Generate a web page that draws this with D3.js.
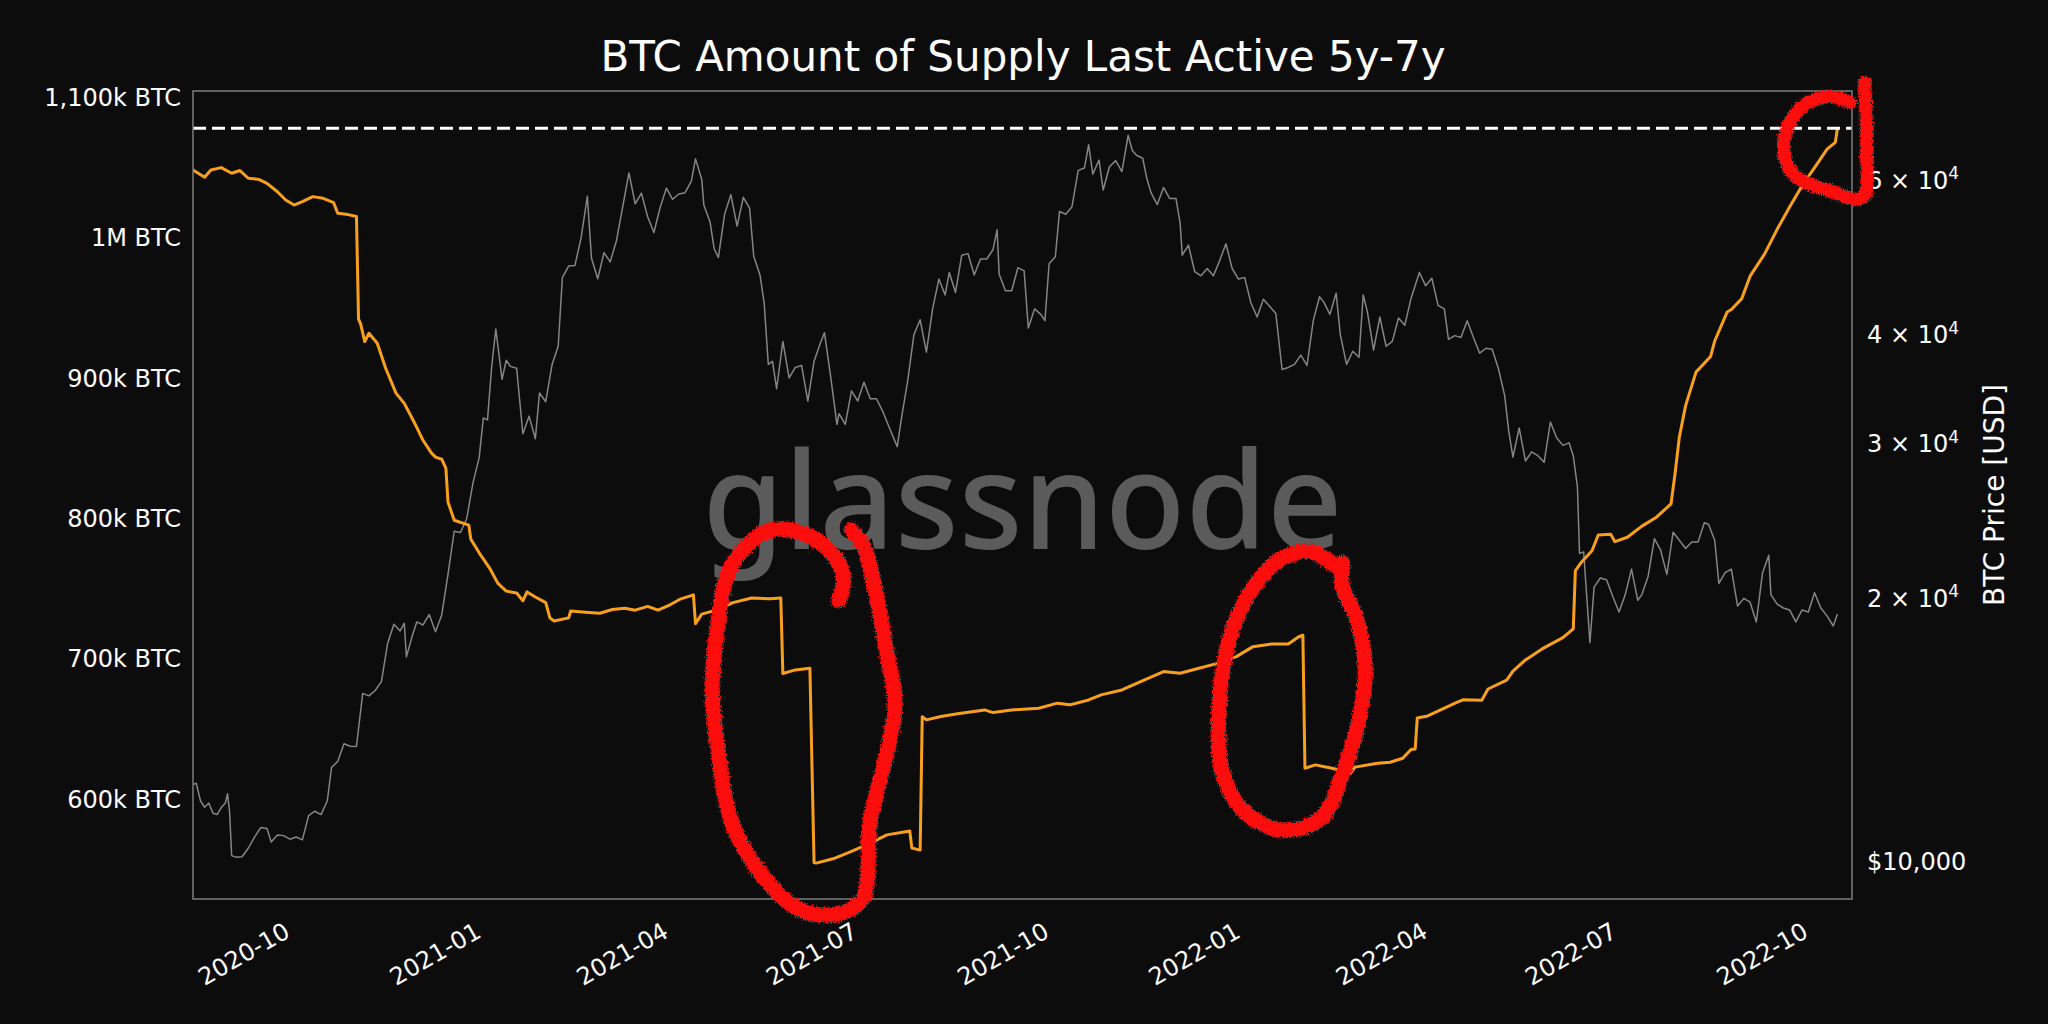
<!DOCTYPE html>
<html>
<head>
<meta charset="utf-8">
<title>BTC Amount of Supply Last Active 5y-7y</title>
<script src="https://cdn.jsdelivr.net/npm/d3@7"></script>
<style>
  html, body { margin: 0; padding: 0; background: #0c0c0c; }
  svg { display: block; }
</style>
</head>
<body>
<svg id="chart" width="2048" height="1024"></svg>
<script>

  // supply last active 5y-7y, thousands of BTC
  var supply = [
    ['2020-08-15', 1049], ['2020-08-21', 1043.5], ['2020-08-24', 1048.7], ['2020-08-29', 1050.4],
    ['2020-09-03', 1046.4], ['2020-09-07', 1048.3], ['2020-09-11', 1042.8], ['2020-09-16', 1042],
    ['2020-09-20', 1039.2], ['2020-09-25', 1033.2], ['2020-09-29', 1027.3], ['2020-10-03', 1023.7],
    ['2020-10-07', 1026.1], ['2020-10-12', 1029.7], ['2020-10-17', 1028.5], ['2020-10-22', 1025.4],
    ['2020-10-24', 1017.9], ['2020-10-29', 1016.9], ['2020-11-02', 1015.5], ['2020-11-03', 942.4],
    ['2020-11-04', 939], ['2020-11-06', 926.4], ['2020-11-08', 932.3], ['2020-11-12', 925.2],
    ['2020-11-16', 907.5], ['2020-11-21', 889.6], ['2020-11-25', 882.3], ['2020-11-30', 868.2],
    ['2020-12-04', 856], ['2020-12-08', 847], ['2020-12-10', 844], ['2020-12-13', 842.5],
    ['2020-12-15', 836], ['2020-12-16', 812], ['2020-12-19', 799], ['2020-12-26', 795.5],
    ['2020-12-27', 785.4], ['2020-12-31', 775.8], ['2021-01-05', 764.9], ['2021-01-09', 754],
    ['2021-01-13', 748.5], ['2021-01-18', 747.2], ['2021-01-21', 741.6], ['2021-01-23', 747.9],
    ['2021-01-27', 744.3], ['2021-02-01', 740.3], ['2021-02-03', 729.4], ['2021-02-05', 727.2],
    ['2021-02-12', 729.4], ['2021-02-13', 734.3], ['2021-02-20', 733.5], ['2021-02-27', 732.7],
    ['2021-03-05', 735.4], ['2021-03-11', 736.2], ['2021-03-16', 734.9], ['2021-03-22', 737.6],
    ['2021-03-27', 734.9], ['2021-04-02', 738.9], ['2021-04-07', 743], ['2021-04-13', 745.8],
    ['2021-04-14', 725.3], ['2021-04-17', 732.1], ['2021-04-24', 734.9], ['2021-05-02', 740.3],
    ['2021-05-11', 743.6], ['2021-05-20', 743], ['2021-05-25', 743.6], ['2021-05-26', 689.8],
    ['2021-06-01', 692.3], ['2021-06-08', 693.5], ['2021-06-09', 623.6], ['2021-06-10', 555],
    ['2021-06-11', 554.6], ['2021-06-20', 558.1], ['2021-06-28', 562.9], ['2021-07-07', 568.8],
    ['2021-07-15', 574.7], ['2021-07-24', 577], ['2021-07-26', 577.5], ['2021-07-27', 565.4],
    ['2021-07-30', 564.2], ['2021-07-31', 564], ['2021-08-01', 659], ['2021-08-03', 656.7],
    ['2021-08-10', 659.1], ['2021-08-18', 661], ['2021-08-31', 663.8], ['2021-09-04', 661.9],
    ['2021-09-13', 663.8], ['2021-09-26', 665], ['2021-10-05', 668.6], ['2021-10-11', 667.4],
    ['2021-10-20', 670.9], ['2021-10-26', 674.5], ['2021-11-05', 678], ['2021-11-14', 684],
    ['2021-11-25', 691.1], ['2021-12-03', 689.9], ['2021-12-12', 693.5], ['2021-12-21', 697],
    ['2021-12-30', 701.8], ['2022-01-07', 708.9], ['2022-01-16', 710.8], ['2022-01-24', 710.8],
    ['2022-01-29', 716], ['2022-01-31', 717], ['2022-02-01', 622.2], ['2022-02-06', 624.6],
    ['2022-02-14', 622.2], ['2022-02-23', 618.7], ['2022-02-25', 623], ['2022-03-08', 625.8],
    ['2022-03-14', 626.5], ['2022-03-20', 629.3], ['2022-03-24', 635.6], ['2022-03-26', 636],
    ['2022-03-27', 658], ['2022-04-01', 659.5], ['2022-04-08', 664.3], ['2022-04-15', 669.1],
    ['2022-04-18', 671], ['2022-04-27', 670.7], ['2022-04-30', 678.7], ['2022-05-09', 685],
    ['2022-05-12', 691.4], ['2022-05-18', 699.4], ['2022-05-26', 707.3], ['2022-05-30', 710.5],
    ['2022-06-05', 715.3], ['2022-06-10', 721.6], ['2022-06-11', 763], ['2022-06-14', 769.3],
    ['2022-06-19', 777.3], ['2022-06-22', 788.5], ['2022-06-28', 789.1], ['2022-06-30', 783.7],
    ['2022-07-06', 786.9], ['2022-07-13', 794.8], ['2022-07-20', 801.2], ['2022-07-27', 810.7],
    ['2022-07-29', 833], ['2022-07-31', 858.4], ['2022-08-03', 880.7], ['2022-08-08', 904.6],
    ['2022-08-15', 915.7], ['2022-08-17', 926.8], ['2022-08-23', 947.5], ['2022-08-25', 949.2],
    ['2022-08-30', 957], ['2022-09-03', 973], ['2022-09-10', 988.9], ['2022-09-16', 1006.4],
    ['2022-09-22', 1022.3], ['2022-09-28', 1037.5], ['2022-10-05', 1052.5], ['2022-10-10', 1063.6],
    ['2022-10-14', 1068.4], ['2022-10-15', 1078.5]
  ]

  // BTC price in USD
  var price = [
    ['2020-08-15', 12250], ['2020-08-17', 12300], ['2020-08-19', 11750], ['2020-08-21', 11550],
    ['2020-08-23', 11680], ['2020-08-25', 11370], ['2020-08-27', 11330], ['2020-08-29', 11540],
    ['2020-08-31', 11680], ['2020-09-01', 11970], ['2020-09-02', 11420], ['2020-09-03', 10170],
    ['2020-09-05', 10130], ['2020-09-08', 10140], ['2020-09-11', 10370], ['2020-09-14', 10680],
    ['2020-09-17', 10950], ['2020-09-20', 10920], ['2020-09-22', 10540], ['2020-09-25', 10740],
    ['2020-09-28', 10720], ['2020-10-01', 10620], ['2020-10-04', 10680], ['2020-10-07', 10600],
    ['2020-10-10', 11300], ['2020-10-13', 11430], ['2020-10-16', 11330], ['2020-10-19', 11750],
    ['2020-10-21', 12820], ['2020-10-24', 13030], ['2020-10-27', 13650], ['2020-10-30', 13560],
    ['2020-11-02', 13550], ['2020-11-05', 15580], ['2020-11-08', 15480], ['2020-11-11', 15700],
    ['2020-11-14', 16070], ['2020-11-17', 17780], ['2020-11-20', 18680], ['2020-11-23', 18360],
    ['2020-11-25', 18730], ['2020-11-26', 17150], ['2020-11-29', 18180], ['2020-12-01', 18800],
    ['2020-12-04', 18650], ['2020-12-07', 19170], ['2020-12-10', 18320], ['2020-12-13', 19150],
    ['2020-12-16', 21300], ['2020-12-19', 23860], ['2020-12-22', 23780], ['2020-12-25', 24660],
    ['2020-12-28', 27080], ['2020-12-31', 28950], ['2021-01-02', 32130], ['2021-01-04', 31970],
    ['2021-01-06', 36770], ['2021-01-08', 40600], ['2021-01-11', 35570], ['2021-01-13', 37400],
    ['2021-01-15', 36800], ['2021-01-18', 36630], ['2021-01-21', 30830], ['2021-01-24', 32290],
    ['2021-01-27', 30430], ['2021-01-29', 34320], ['2021-02-01', 33540], ['2021-02-04', 36930],
    ['2021-02-07', 38830], ['2021-02-09', 46480], ['2021-02-12', 47910], ['2021-02-15', 47970],
    ['2021-02-18', 51600], ['2021-02-21', 57540], ['2021-02-23', 48890], ['2021-02-26', 46340],
    ['2021-03-01', 49630], ['2021-03-04', 48440], ['2021-03-07', 51210], ['2021-03-10', 55960],
    ['2021-03-13', 61200], ['2021-03-16', 56430], ['2021-03-19', 58030], ['2021-03-22', 54530],
    ['2021-03-25', 52330], ['2021-03-28', 55880], ['2021-03-31', 58800], ['2021-04-03', 57100],
    ['2021-04-06', 57900], ['2021-04-09', 58100], ['2021-04-12', 59900], ['2021-04-14', 63500],
    ['2021-04-17', 60200], ['2021-04-18', 56250], ['2021-04-21', 53800], ['2021-04-23', 50100],
    ['2021-04-25', 49000], ['2021-04-28', 54900], ['2021-05-01', 57800], ['2021-05-04', 53200],
    ['2021-05-07', 57400], ['2021-05-10', 55800], ['2021-05-12', 49150], ['2021-05-15', 46800],
    ['2021-05-17', 43500], ['2021-05-19', 37000], ['2021-05-21', 37300], ['2021-05-23', 34700],
    ['2021-05-26', 39300], ['2021-05-29', 35700], ['2021-06-01', 36700], ['2021-06-04', 36900],
    ['2021-06-07', 33600], ['2021-06-10', 37300], ['2021-06-13', 39100], ['2021-06-15', 40200],
    ['2021-06-18', 35800], ['2021-06-21', 31600], ['2021-06-22', 32500], ['2021-06-25', 31600],
    ['2021-06-28', 34500], ['2021-07-01', 33600], ['2021-07-04', 35300], ['2021-07-07', 33800],
    ['2021-07-10', 33800], ['2021-07-13', 32700], ['2021-07-16', 31400], ['2021-07-20', 29800],
    ['2021-07-22', 32100], ['2021-07-25', 35400], ['2021-07-28', 40000], ['2021-07-31', 41600],
    ['2021-08-03', 38200], ['2021-08-06', 42800], ['2021-08-09', 46300], ['2021-08-12', 44400],
    ['2021-08-14', 47100], ['2021-08-17', 44700], ['2021-08-20', 49300], ['2021-08-23', 49500],
    ['2021-08-26', 46800], ['2021-08-29', 48800], ['2021-09-01', 48800], ['2021-09-04', 50000],
    ['2021-09-06', 52700], ['2021-09-07', 46900], ['2021-09-10', 44900], ['2021-09-13', 44900],
    ['2021-09-16', 47700], ['2021-09-19', 47300], ['2021-09-21', 40700], ['2021-09-24', 42800],
    ['2021-09-27', 42200], ['2021-09-29', 41500], ['2021-10-01', 48200], ['2021-10-04', 49100],
    ['2021-10-06', 55300], ['2021-10-09', 54900], ['2021-10-12', 56000], ['2021-10-15', 61600],
    ['2021-10-18', 62000], ['2021-10-20', 65900], ['2021-10-22', 61000], ['2021-10-25', 63300],
    ['2021-10-27', 58500], ['2021-10-30', 62200], ['2021-11-02', 63200], ['2021-11-05', 61400],
    ['2021-11-08', 67550], ['2021-11-10', 64900], ['2021-11-12', 64100], ['2021-11-15', 63600],
    ['2021-11-17', 60300], ['2021-11-19', 58100], ['2021-11-22', 56300], ['2021-11-25', 58900],
    ['2021-11-28', 57200], ['2021-12-01', 57200], ['2021-12-03', 53600], ['2021-12-04', 49300],
    ['2021-12-07', 50600], ['2021-12-10', 47200], ['2021-12-13', 46700], ['2021-12-16', 47600],
    ['2021-12-19', 46700], ['2021-12-22', 48600], ['2021-12-25', 50800], ['2021-12-28', 47600],
    ['2021-12-31', 46300], ['2022-01-03', 46500], ['2022-01-06', 43500], ['2022-01-09', 41900],
    ['2022-01-12', 43900], ['2022-01-15', 43100], ['2022-01-18', 42300], ['2022-01-21', 36500],
    ['2022-01-24', 36700], ['2022-01-27', 37000], ['2022-01-30', 37900], ['2022-02-02', 36900],
    ['2022-02-05', 41500], ['2022-02-08', 44200], ['2022-02-10', 43600], ['2022-02-13', 42200],
    ['2022-02-16', 44600], ['2022-02-18', 40000], ['2022-02-21', 37000], ['2022-02-24', 38300],
    ['2022-02-27', 37700], ['2022-03-01', 44400], ['2022-03-03', 42500], ['2022-03-06', 38400],
    ['2022-03-09', 41900], ['2022-03-12', 38800], ['2022-03-15', 39300], ['2022-03-18', 41800],
    ['2022-03-21', 41000], ['2022-03-24', 44000], ['2022-03-28', 47100], ['2022-03-31', 45500],
    ['2022-04-03', 46400], ['2022-04-06', 43200], ['2022-04-09', 42800], ['2022-04-11', 39500],
    ['2022-04-14', 39900], ['2022-04-17', 39700], ['2022-04-20', 41500], ['2022-04-23', 39700],
    ['2022-04-26', 38100], ['2022-04-29', 38600], ['2022-05-02', 38500], ['2022-05-05', 36600],
    ['2022-05-08', 34100], ['2022-05-10', 31000], ['2022-05-12', 29000], ['2022-05-15', 31300],
    ['2022-05-18', 28700], ['2022-05-21', 29400], ['2022-05-24', 29100], ['2022-05-27', 28600],
    ['2022-05-30', 31800], ['2022-06-02', 30500], ['2022-06-05', 29900], ['2022-06-08', 30100],
    ['2022-06-10', 29100], ['2022-06-12', 26800], ['2022-06-13', 22500], ['2022-06-15', 22600],
    ['2022-06-18', 17800], ['2022-06-20', 20600], ['2022-06-23', 21100], ['2022-06-26', 21000],
    ['2022-06-29', 20100], ['2022-07-02', 19300], ['2022-07-05', 20200], ['2022-07-08', 21600],
    ['2022-07-11', 19900], ['2022-07-13', 20200], ['2022-07-16', 21200], ['2022-07-19', 23400],
    ['2022-07-22', 22700], ['2022-07-25', 21300], ['2022-07-28', 23800], ['2022-07-31', 23300],
    ['2022-08-03', 22800], ['2022-08-06', 23200], ['2022-08-09', 23200], ['2022-08-12', 24400],
    ['2022-08-14', 24300], ['2022-08-17', 23300], ['2022-08-19', 20800], ['2022-08-22', 21400],
    ['2022-08-25', 21600], ['2022-08-28', 19600], ['2022-08-31', 20000], ['2022-09-03', 19800],
    ['2022-09-06', 18800], ['2022-09-09', 21400], ['2022-09-12', 22400], ['2022-09-13', 20200],
    ['2022-09-16', 19700], ['2022-09-19', 19500], ['2022-09-22', 19400], ['2022-09-25', 18800],
    ['2022-09-28', 19400], ['2022-10-01', 19300], ['2022-10-04', 20300], ['2022-10-07', 19500],
    ['2022-10-10', 19100], ['2022-10-13', 18600], ['2022-10-15', 19200]
  ]

  // axis ticks
  var dateTicks = ['2020-10-01', '2021-01-01', '2021-04-01', '2021-07-01', '2021-10-01',
                   '2022-01-01', '2022-04-01', '2022-07-01', '2022-10-01']
  var supplyTicks = [600, 700, 800, 900, 1000, 1100]
  var supplyTickLabels = ['600k BTC', '700k BTC', '800k BTC', '900k BTC', '1M BTC', '1,100k BTC']
  var priceTicks = [10000, 20000, 30000, 40000, 60000]
  var priceTickLabels = [['$10,000', ''], ['2 \u00d7 10', '4'], ['3 \u00d7 10', '4'], ['4 \u00d7 10', '4'], ['6 \u00d7 10', '4']]

  // hand drawn red marks on the picture, in date / k BTC
  var redLoopJune = [
    ['2021-06-22', 742], ['2021-06-24', 760], ['2021-06-17', 778], ['2021-06-04', 790],
    ['2021-05-20', 792], ['2021-05-08', 780], ['2021-04-29', 759], ['2021-04-25', 728],
    ['2021-04-22', 680], ['2021-04-25', 633], ['2021-05-01', 585], ['2021-05-14', 550],
    ['2021-05-30', 525], ['2021-06-10', 518], ['2021-06-27', 521], ['2021-07-04', 531],
    ['2021-07-07', 585], ['2021-07-15', 633], ['2021-07-19', 669], ['2021-07-15', 704],
    ['2021-07-09', 752], ['2021-07-04', 780], ['2021-06-28', 792]
  ]
  var redLoopFeb = [
    ['2022-02-15', 767], ['2022-02-03', 777], ['2022-01-20', 771], ['2022-01-08', 753],
    ['2021-12-28', 721], ['2021-12-22', 671], ['2021-12-23', 621], ['2022-01-03', 591],
    ['2022-01-22', 578], ['2022-02-09', 587], ['2022-02-19', 618], ['2022-02-27', 657],
    ['2022-03-02', 692], ['2022-02-26', 728], ['2022-02-19', 752], ['2022-02-19', 769]
  ]
  var redHookOct = [
    ['2022-10-21', 1097], ['2022-10-11', 1101], ['2022-09-28', 1094], ['2022-09-20', 1075],
    ['2022-09-20', 1056], ['2022-09-25', 1044], ['2022-10-11', 1034], ['2022-10-27', 1029],
    ['2022-10-29', 1063], ['2022-10-28', 1111]
  ]

  var W = 2048, H = 1024
  var plot = { left: 193, right: 1852, top: 91, bottom: 899 }
  var parseDate = d3.utcParse('%Y-%m-%d')
  var font = '"DejaVu Sans", "Liberation Sans", sans-serif'

  var svg = d3.select('#chart')

  svg.append('rect').attr('width', W).attr('height', H).attr('fill', '#0c0c0c')

  var defs = svg.append('defs')
  defs.append('clipPath').attr('id', 'plotClip')
    .append('rect')
    .attr('x', plot.left).attr('y', plot.top)
    .attr('width', plot.right - plot.left).attr('height', plot.bottom - plot.top)

  // marker pen roughness for the red scribbles
  var rough = defs.append('filter').attr('id', 'rough')
    .attr('x', '-10%').attr('y', '-10%').attr('width', '120%').attr('height', '120%')
  rough.append('feTurbulence').attr('type', 'fractalNoise')
    .attr('baseFrequency', 0.8).attr('numOctaves', 2).attr('seed', 3).attr('result', 'noise')
  rough.append('feDisplacementMap').attr('in', 'SourceGraphic').attr('in2', 'noise')
    .attr('scale', 7).attr('xChannelSelector', 'R').attr('yChannelSelector', 'G')

  // scales
  var x = d3.scaleUtc()
    .domain([new Date(Date.UTC(2020, 7, 15, 10)), new Date(Date.UTC(2022, 9, 22, 0))])
    .range([plot.left, plot.right])
  var ySupply = d3.scaleLinear().domain([529, 1105]).range([plot.bottom, plot.top])
  var yPrice = d3.scaleLog().domain([9075, 75900]).range([plot.bottom, plot.top])

  var supplyData = supply.map(function (d) { return { date: parseDate(d[0]), v: d[1] } })
  var priceData = price.map(function (d) { return { date: parseDate(d[0]), v: d[1] } })

  // watermark
  svg.append('text')
    .attr('x', (plot.left + plot.right) / 2).attr('y', 549)
    .attr('text-anchor', 'middle')
    .attr('textLength', 640).attr('lengthAdjust', 'spacingAndGlyphs')
    .style('font-family', '"Noto Sans", "Open Sans", sans-serif')
    .style('font-weight', 500)
    .style('font-size', '134px')
    .attr('fill', '#5b5b5b')
    .text('glassnode')

  var lines = svg.append('g').attr('clip-path', 'url(#plotClip)')

  // price line (right log axis)
  lines.append('path')
    .datum(priceData)
    .attr('fill', 'none')
    .attr('stroke', '#858585')
    .attr('stroke-width', 1.5)
    .attr('stroke-linejoin', 'round')
    .attr('d', d3.line().x(function (d) { return x(d.date) }).y(function (d) { return yPrice(d.v) }))

  // supply line (left axis)
  lines.append('path')
    .datum(supplyData)
    .attr('fill', 'none')
    .attr('stroke', '#f8a01c')
    .attr('stroke-width', 3)
    .attr('stroke-linejoin', 'round')
    .attr('d', d3.line().x(function (d) { return x(d.date) }).y(function (d) { return ySupply(d.v) }))

  // all time high of the series
  var maxSupply = d3.max(supplyData, function (d) { return d.v })
  svg.append('line')
    .attr('x1', plot.left).attr('x2', plot.right)
    .attr('y1', ySupply(maxSupply)).attr('y2', ySupply(maxSupply))
    .attr('stroke', '#ffffff')
    .attr('stroke-width', 3)
    .attr('stroke-dasharray', '13,6')

  // frame
  svg.append('rect')
    .attr('x', plot.left).attr('y', plot.top)
    .attr('width', plot.right - plot.left).attr('height', plot.bottom - plot.top)
    .attr('fill', 'none').attr('stroke', '#7c7c7c').attr('stroke-width', 1.5)

  // x axis
  var gx = svg.append('g')
    .attr('transform', 'translate(0,' + plot.bottom + ')')
    .call(d3.axisBottom(x)
      .tickValues(dateTicks.map(parseDate))
      .tickFormat(d3.utcFormat('%Y-%m'))
      .tickSize(0))
  gx.select('.domain').remove()
  gx.selectAll('text')
    .attr('x', 0).attr('y', 0).attr('dy', 0)
    .attr('text-anchor', 'end')
    .attr('transform', 'translate(1,37) rotate(-30)')

  // left axis
  var gl = svg.append('g')
    .attr('transform', 'translate(' + plot.left + ',0)')
    .call(d3.axisLeft(ySupply)
      .tickValues(supplyTicks)
      .tickFormat(function (d, i) { return supplyTickLabels[i] })
      .tickSize(0).tickPadding(12))
  gl.select('.domain').remove()

  // right axis
  var gr = svg.append('g')
    .attr('transform', 'translate(' + plot.right + ',0)')
    .call(d3.axisRight(yPrice)
      .tickValues(priceTicks)
      .tickFormat(function () { return '' })
      .tickSize(0).tickPadding(15))
  gr.select('.domain').remove()
  gr.selectAll('text').each(function (d, i) {
    var t = d3.select(this)
    t.append('tspan').text(priceTickLabels[i][0])
    if (priceTickLabels[i][1]) {
      t.append('tspan').attr('dy', '-0.55em').style('font-size', '17px').text(priceTickLabels[i][1])
    }
  })

  ;[gx, gl, gr].forEach(function (g) {
    g.attr('font-family', font).attr('font-size', 24).attr('color', '#ffffff')
  })

  // axis title on the right
  svg.append('text')
    .attr('transform', 'translate(1994,' + ((plot.top + plot.bottom) / 2) + ') rotate(-90)')
    .attr('text-anchor', 'middle')
    .attr('dominant-baseline', 'central')
    .style('font-family', font).style('font-size', '28px')
    .attr('fill', '#ffffff')
    .text('BTC Price [USD]')

  // title
  svg.append('text')
    .attr('x', 1023).attr('y', 71)
    .attr('text-anchor', 'middle')
    .style('font-family', font).style('font-size', '42px')
    .attr('fill', '#ffffff')
    .text('BTC Amount of Supply Last Active 5y-7y')

  // red scribbles
  var scribble = d3.line()
    .x(function (d) { return x(parseDate(d[0])) })
    .y(function (d) { return ySupply(d[1]) })
    .curve(d3.curveCatmullRom.alpha(0.5))

  var marks = svg.append('g').attr('filter', 'url(#rough)')
  ;[[redLoopJune, 15], [redLoopFeb, 15], [redHookOct, 13]].forEach(function (m) {
    marks.append('path')
      .datum(m[0])
      .attr('fill', 'none')
      .attr('stroke', '#ff0a0a')
      .attr('stroke-width', m[1])
      .attr('stroke-linecap', 'round')
      .attr('stroke-linejoin', 'round')
      .attr('d', scribble)
  })

</script>
</body>
</html>
